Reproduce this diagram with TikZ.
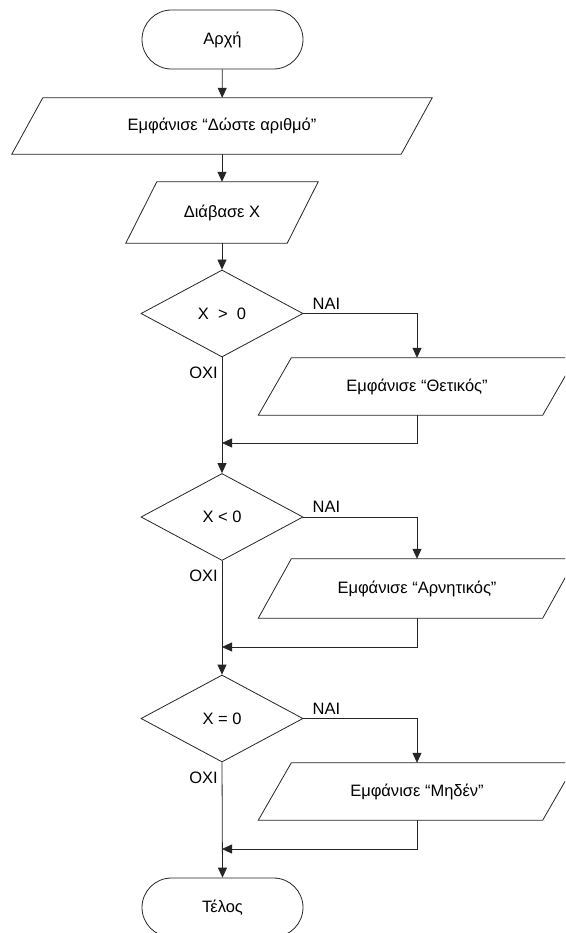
\documentclass[tikz,border=0pt]{standalone}
\usepackage{fontspec}
\setmainfont{Liberation Sans}
\usetikzlibrary{arrows.meta,shapes.geometric,calc}

% parallelogram outline around a (borderless) rectangular node
\newcommand{\ioshape}[2]{%
  \draw[line] ([xshift=#2pt]#1.north west) -- ([xshift=#2pt]#1.north east)
    -- ([xshift=-#2pt]#1.south east) -- ([xshift=-#2pt]#1.south west) -- cycle;}

\begin{document}
\begin{tikzpicture}[x=1pt,y=-1pt,
  txt/.style={font=\fontsize{16.5}{19}\selectfont},
  line/.style={draw=black!85, line width=0.8pt},
  arr/.style={line, -{Triangle[length=10pt,width=9pt]}},
  term/.style={line, txt, rectangle, rounded corners=29.5pt,
    minimum width=161pt, minimum height=59pt, inner sep=0pt},
  iobox/.style={txt, rectangle, inner sep=0pt},
  dec/.style={line, txt, diamond, minimum width=162pt,
    minimum height=87pt, inner sep=0pt},
  lbl/.style={txt, inner sep=0pt}
]
\useasboundingbox (0,0) rectangle (565,933);
\clip (0,0) rectangle (565,933);
\fill[white] (0,0) rectangle (565,933);

% main column
\node[term] (start) at (222.5,39.5) {Αρχή};
\node[iobox, minimum width=389pt, minimum height=56pt] (out1) at (222,126)
  {Εμφάνισε “Δώστε αριθμό”};
\ioshape{out1}{15.5}
\node[iobox, minimum width=161pt, minimum height=61pt] (in1) at (222,212.5)
  {Διάβασε Χ};
\ioshape{in1}{15.5}
\node[dec] (d1) at (222,313.5) {Χ\ \ >\ \ 0};
\node[dec] (d2) at (222,517) {Χ < 0};
\node[dec] (d3) at (222,718.5) {Χ = 0};
\node[term] (end) at (222.5,907.5) {Τέλος};

% branch outputs
\node[iobox, minimum width=284pt, minimum height=57pt] (p1) at (417,386.5)
  {Εμφάνισε “Θετικός”};
\ioshape{p1}{16.5}
\node[iobox, minimum width=284pt, minimum height=59pt] (p2) at (417,588.5)
  {Εμφάνισε “Αρνητικός”};
\ioshape{p2}{16.5}
\node[iobox, minimum width=284pt, minimum height=57pt] (p3) at (417,791.5)
  {Εμφάνισε “Μηδέν”};
\ioshape{p3}{16.5}

% junctions on the main line
\coordinate (j1) at (222,443);
\coordinate (j2) at (222,647);
\coordinate (j3) at (222,849);

% connectors
\draw[arr] (start) -- (out1);
\draw[arr] (out1) -- (in1);
\draw[arr] (in1) -- (d1);
\draw[arr] (d1.east) -| (p1.north);
\draw[arr] (p1.south) |- (j1);
\draw[arr] (d1.south) -- (d2.north);
\draw[arr] (d2.east) -| (p2.north);
\draw[arr] (p2.south) |- (j2);
\draw[arr] (d2.south) -- (d3.north);
\draw[arr] (d3.east) -| (p3.north);
\draw[arr] (p3.south) |- (j3);
\draw[arr] (d3.south) -- (end.north);

% branch labels
\foreach \d in {d1,d2,d3}{
  \node[lbl, anchor=south west] at ($(\d.east)+(9,-4)$) {ΝΑΙ};
  \node[lbl, anchor=east] at ($(\d.south)+(-4,15)$) {ΟΧΙ};
}
\end{tikzpicture}
\end{document}
